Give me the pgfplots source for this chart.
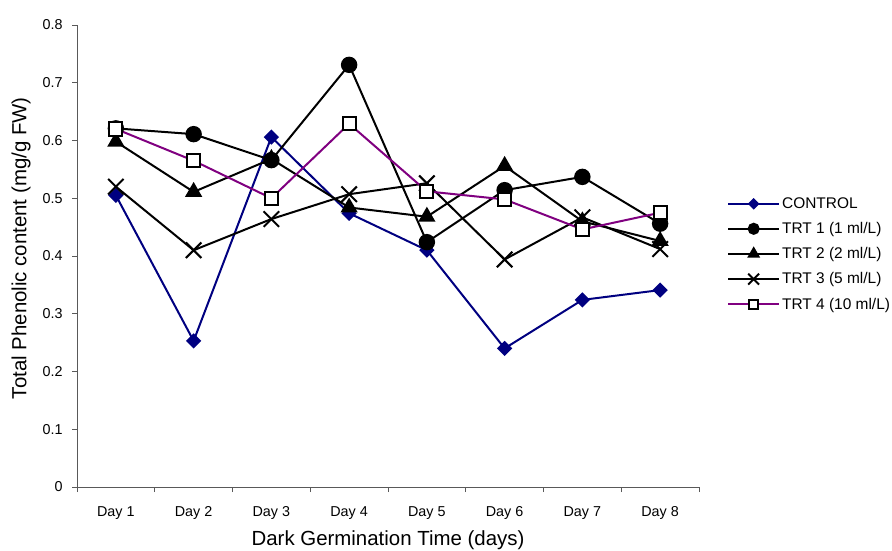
\documentclass[border=0pt]{standalone}
\usepackage{pgfplots}
\pgfplotsset{compat=1.18}
\usepackage{fontspec}
\setmainfont{Liberation Sans}
\definecolor{ctrl}{HTML}{000080}
\definecolor{trtfour}{HTML}{800080}

\begin{document}
\begin{tikzpicture}
\path[use as bounding box] (0,0) rectangle (892bp,551bp);
\begin{axis}[
  at={(77bp,64bp)}, anchor=south west,
  scale only axis, width=622bp, height=462bp,
  xmin=0.5, xmax=8.5, ymin=0, ymax=0.8,
  axis x line*=bottom, axis y line*=left,
  axis line style={black!65, line width=0.8bp, -},
  xtick={1,...,8},
  xticklabels={Day 1,Day 2,Day 3,Day 4,Day 5,Day 6,Day 7,Day 8},
  minor xtick={0.5,1.5,...,8.5},
  ytick={0,0.1,...,0.8},
  tick align=outside,
  major tick length=5bp, minor tick length=5bp,
  x tick style={draw=none},
  minor x tick style={draw=black!65, line width=0.8bp},
  y tick style={black!65, line width=0.8bp},
  yticklabel style={/pgf/number format/fixed, /pgf/number format/precision=1, xshift=-6bp},
  /pgf/number format/assume math mode=true,
  ticklabel style={font=\fontsize{14.4}{16}\selectfont},
  xticklabel style={yshift=-11bp},
  xlabel={Dark Germination Time (days)},
  ylabel={Total Phenolic content (mg/g FW)},
  label style={font=\fontsize{20.5}{23}\selectfont},
  x label style={at={(axis description cs:0.5,-0.1147)}, anchor=center},
  y label style={at={(axis description cs:-0.090,0.517)}, anchor=center},
  clip=false,
  every axis plot/.append style={line width=2bp},
  legend style={at={(1.045,0.631)}, anchor=north west, draw=none, fill=none,
    font=\fontsize{15.5}{18}\selectfont, row sep=8.5bp, inner sep=0pt,
    legend cell align=left},
  legend image code/.code={
    \draw[mark repeat=2, mark phase=2, #1, every mark/.append style={scale=0.7}]
      plot coordinates {(0bp,0bp) (25.5bp,0bp) (51bp,0bp)};},
]
% Control
\addplot[ctrl, mark=square*, mark size=4.4bp, mark options={rotate=45, fill=ctrl, draw=ctrl}]
  coordinates {(1,0.505) (2,0.253) (3,0.606) (4,0.474) (5,0.410) (6,0.240) (7,0.324) (8,0.341)};
\addlegendentry{CONTROL}
% Treatment 1
\addplot[black, mark=*, mark size=7.2bp, mark options={fill=black}]
  coordinates {(1,0.621) (2,0.611) (3,0.566) (4,0.731) (5,0.424) (6,0.514) (7,0.537) (8,0.456)};
\addlegendentry{TRT 1 (1 ml/L)}
% Treatment 2
\addplot[black, mark=triangle*, mark size=8bp, mark options={fill=black}]
  coordinates {(1,0.598) (2,0.511) (3,0.568) (4,0.484) (5,0.468) (6,0.556) (7,0.460) (8,0.426)};
\addlegendentry{TRT 2 (2 ml/L)}
% Treatment 3
\addplot[black, mark=x, mark size=11bp]
  coordinates {(1,0.520) (2,0.410) (3,0.464) (4,0.507) (5,0.526) (6,0.394) (7,0.467) (8,0.412)};
\addlegendentry{TRT 3 (5 ml/L)}
% Treatment 4
\addplot[trtfour, mark=square*, mark size=6.6bp, mark options={fill=white, draw=black}]
  coordinates {(1,0.620) (2,0.565) (3,0.500) (4,0.629) (5,0.512) (6,0.498) (7,0.446) (8,0.475)};
\addlegendentry{TRT 4 (10 ml/L)}
\end{axis}
\end{tikzpicture}
\end{document}
